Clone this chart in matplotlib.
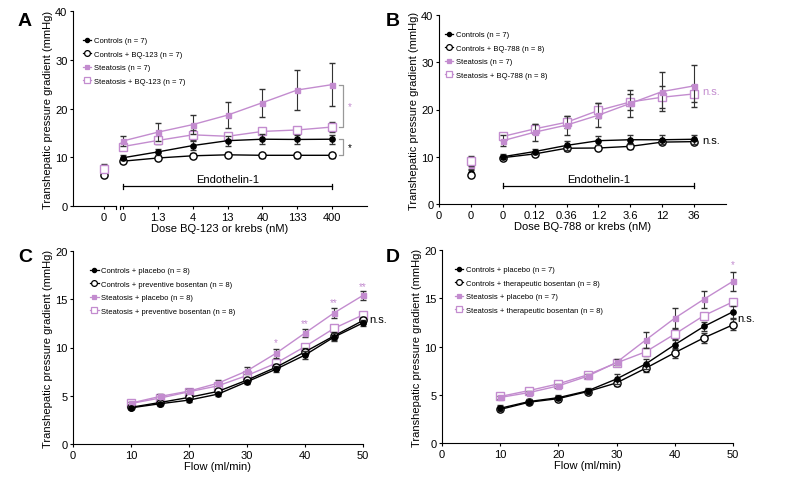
import numpy as np
import matplotlib
matplotlib.use("Agg")
import matplotlib.pyplot as plt
from matplotlib.lines import Line2D

plt.rcParams['font.family'] = ['Liberation Sans', 'DejaVu Sans']

PURPLE = '#c38ccf'
ERRC = '#333333'

# ---------------- Panel A data ----------------
a_labels = ['0', '1.3', '4', '13', '40', '133', '400']
a_ctrl = [9.9, 11.1, 12.4, 13.4, 13.7, 13.65, 13.7]
a_ctrl_err = [0.5, 0.6, 1.0, 1.0, 1.0, 0.9, 0.9]
a_ctrl_bq = [9.2, 9.85, 10.3, 10.5, 10.4, 10.4, 10.4]
a_ctrl_bq_err = [0.4, 0.5, 0.5, 0.5, 0.5, 0.5, 0.5]
a_st = [13.35, 15.15, 16.7, 18.65, 21.2, 23.8, 24.9]
a_st_err = [1.1, 1.8, 2.0, 2.6, 2.9, 4.1, 4.4]
a_st_bq = [12.2, 13.45, 14.6, 14.3, 15.3, 15.6, 16.2]
a_st_bq_err = [0.8, 0.8, 1.0, 0.7, 0.6, 0.6, 1.0]
a_base = [6.6, 6.3, 7.9, 7.6]
a_base_err = [0.5, 0.4, 0.8, 0.6]

# ---------------- Panel B data ----------------
b_labels = ['0', '0.12', '0.36', '1.2', '3.6', '12', '36']
b_ctrl = [10.0, 11.1, 12.4, 13.4, 13.6, 13.6, 13.7]
b_ctrl_err = [0.5, 0.6, 1.0, 1.0, 1.0, 0.9, 0.9]
b_ctrl_bq = [9.8, 10.6, 11.8, 11.85, 12.2, 13.1, 13.2]
b_ctrl_bq_err = [0.4, 0.5, 0.5, 0.5, 0.6, 0.5, 0.5]
b_st = [13.4, 15.2, 16.7, 18.8, 21.3, 23.8, 25.0]
b_st_err = [1.1, 1.8, 2.0, 2.6, 2.9, 4.1, 4.4]
b_st_bq = [14.3, 15.9, 17.3, 19.8, 21.6, 22.6, 23.3]
b_st_bq_err = [0.8, 1.0, 1.3, 1.5, 1.6, 2.3, 1.8]
b_base = [6.6, 6.2, 8.2, 9.1]
b_base_err = [0.5, 0.4, 0.8, 1.1]

# ---------------- Panel C data ----------------
flow = [10, 15, 20, 25, 30, 35, 40, 45, 50]
c_ctrl = [3.75, 4.17, 4.55, 5.17, 6.45, 7.75, 9.22, 11.08, 12.55]
c_ctrl_err = [0.15, 0.2, 0.2, 0.2, 0.2, 0.3, 0.45, 0.4, 0.35]
c_ctrl_bos = [3.8, 4.3, 4.83, 5.45, 6.62, 7.95, 9.55, 11.2, 12.8]
c_ctrl_bos_err = [0.15, 0.2, 0.2, 0.2, 0.25, 0.3, 0.35, 0.4, 0.35]
c_st = [4.24, 4.93, 5.48, 6.3, 7.58, 9.4, 11.5, 13.58, 15.4]
c_st_err = [0.15, 0.3, 0.2, 0.3, 0.35, 0.45, 0.45, 0.5, 0.5]
c_st_bos = [4.2, 4.76, 5.41, 6.03, 7.1, 8.37, 10.1, 11.98, 13.38]
c_st_bos_err = [0.15, 0.2, 0.2, 0.2, 0.25, 0.3, 0.3, 0.3, 0.3]

# ---------------- Panel D data ----------------
d_ctrl = [3.6, 4.3, 4.7, 5.4, 6.64, 8.19, 10.19, 12.08, 13.6]
d_ctrl_err = [0.3, 0.25, 0.25, 0.35, 0.5, 0.5, 0.5, 0.5, 0.6]
d_ctrl_bos = [3.48, 4.23, 4.6, 5.33, 6.23, 7.75, 9.36, 10.9, 12.25]
d_ctrl_bos_err = [0.2, 0.2, 0.25, 0.3, 0.3, 0.4, 0.5, 0.5, 0.55]
d_st = [4.72, 5.23, 5.92, 6.92, 8.36, 10.67, 12.94, 14.9, 16.76]
d_st_err = [0.15, 0.2, 0.2, 0.2, 0.3, 0.8, 1.0, 0.87, 1.0]
d_st_bos = [4.82, 5.44, 6.13, 7.06, 8.3, 9.45, 11.29, 13.2, 14.63]
d_st_bos_err = [0.15, 0.2, 0.2, 0.2, 0.3, 0.4, 0.5, 0.3, 0.3]

W, H = 787, 481
fig = plt.figure(figsize=(W / 100, H / 100), dpi=100)


def rect(l, r, t, b):
    return [l / W, 1 - b / H, (r - l) / W, (b - t) / H]


axA = fig.add_axes(rect(73, 367, 12, 207))
axB = fig.add_axes(rect(439, 726, 16, 205))
axC = fig.add_axes(rect(73, 363, 252, 445))
axD = fig.add_axes(rect(442, 733, 251, 444))

STYLES = [
    dict(color='black', marker='o', mfc='black', mec='black', ms=3.8),
    dict(color='black', marker='o', mfc='white', mec='black', ms=5.2, mew=1.0),
    dict(color=PURPLE, marker='s', mfc=PURPLE, mec=PURPLE, ms=3.6),
    dict(color=PURPLE, marker='s', mfc='white', mec=PURPLE, ms=5.4, mew=1.0),
]

FS = 8


def series(ax, x, y, e, st, z, line=True):
    ax.errorbar(x, y, yerr=e, ls='-' if line else 'none', lw=1.0,
                color=st['color'], marker=st['marker'], mfc=st['mfc'],
                mec=st['mec'], ms=st['ms'], mew=st.get('mew', 1.0),
                ecolor=ERRC, elinewidth=0.8, capsize=2, capthick=0.8,
                zorder=z, clip_on=False)


def style_axis(ax):
    for s in ['top', 'right']:
        ax.spines[s].set_visible(False)
    for s in ['left', 'bottom']:
        ax.spines[s].set_linewidth(0.8)
    ax.tick_params(labelsize=FS, width=0.8, length=2.5, pad=1.5, direction='out')
    ax.set_ylabel('Transhepatic pressure gradient (mmHg)', fontsize=FS, labelpad=1.5)


def legend(ax, labels, anchor):
    handles = []
    for st in STYLES:
        handles.append(Line2D([], [], color=st['color'], marker=st['marker'],
                              mfc=st['mfc'], mec=st['mec'], ms=st['ms'] * 0.8,
                              mew=st.get('mew', 1.0) * 0.9, lw=0.9))
    ax.legend(handles, labels, loc='upper left', bbox_to_anchor=anchor,
              frameon=False, fontsize=5.5, handlelength=1.1, handletextpad=0.35,
              labelspacing=0.8, borderaxespad=0, borderpad=0)


# ---------------- Panel A ----------------
ax = axA
style_axis(ax)
xa = np.arange(len(a_labels))
xbaseA = -0.55
series(ax, xa, a_ctrl_bq, a_ctrl_bq_err, STYLES[1], 5)
series(ax, xa, a_ctrl, a_ctrl_err, STYLES[0], 6)
series(ax, xa, a_st_bq, a_st_bq_err, STYLES[3], 4)
series(ax, xa, a_st, a_st_err, STYLES[2], 5)
for i in [3, 2, 1, 0]:
    series(ax, [xbaseA], [a_base[i]], [a_base_err[i]], STYLES[i], 4 + i, line=False)
ax.set_xlim(-1.44, 7)
ax.set_ylim(0, 40)
ax.set_yticks([0, 10, 20, 30, 40])
ax.set_xticks([xbaseA] + list(xa))
ax.set_xticklabels(['0'] + a_labels)
ax.spines['bottom'].set_visible(False)
ax.plot([-1.44, -0.2], [0, 0], color='black', lw=0.8, clip_on=False)
ax.plot([-0.09, 7], [0, 0], color='black', lw=0.8, clip_on=False)
ax.plot([-0.2, -0.2], [0, -0.55], color='black', lw=0.8, clip_on=False)
ax.plot([-0.09, -0.09], [0, -0.55], color='black', lw=0.8, clip_on=False)
ax.set_xlabel('Dose BQ-123 or krebs (nM)', fontsize=FS, labelpad=1)
# Endothelin-1 bar
ax.plot([0, 6], [4.05, 4.05], color='black', lw=0.9)
ax.plot([0, 0], [3.55, 4.55], color='black', lw=0.9)
ax.plot([6, 6], [3.55, 4.55], color='black', lw=0.9)
ax.text(3, 5.0, 'Endothelin-1', ha='center', va='baseline', fontsize=FS)
# significance brackets
bx = 6.3
ax.plot([bx - 0.1, bx, bx, bx - 0.1], [a_st[-1], a_st[-1], a_st_bq[-1], a_st_bq[-1]],
        color='#999999', lw=0.9, clip_on=False)
ax.text(bx + 0.15, (a_st[-1] + a_st_bq[-1]) / 2, '*', color=PURPLE, fontsize=7,
        ha='left', va='center')
ax.plot([bx - 0.1, bx, bx, bx - 0.1], [a_ctrl[-1], a_ctrl[-1], a_ctrl_bq[-1], a_ctrl_bq[-1]],
        color='#999999', lw=0.9, clip_on=False)
ax.text(bx + 0.15, (a_ctrl[-1] + a_ctrl_bq[-1]) / 2, '*', color='black', fontsize=7,
        ha='left', va='center')
legend(ax, ['Controls (n = 7)', 'Controls + BQ-123 (n = 7)',
            'Steatosis (n = 7)', 'Steatosis + BQ-123 (n = 7)'], (0.034, 0.867))

# ---------------- Panel B ----------------
ax = axB
style_axis(ax)
xb = np.arange(len(b_labels))
xbaseB = -1
series(ax, xb, b_ctrl_bq, b_ctrl_bq_err, STYLES[1], 5)
series(ax, xb, b_ctrl, b_ctrl_err, STYLES[0], 6)
series(ax, xb, b_st_bq, b_st_bq_err, STYLES[3], 4)
series(ax, xb, b_st, b_st_err, STYLES[2], 5)
for i in [3, 2, 1, 0]:
    series(ax, [xbaseB], [b_base[i]], [b_base_err[i]], STYLES[i], 4 + i, line=False)
ax.set_xlim(-2, 7)
ax.set_ylim(0, 40)
ax.set_yticks([0, 10, 20, 30, 40])
ax.set_xticks([-2, xbaseB] + list(xb))
ax.set_xticklabels(['0', '0'] + b_labels)
ax.set_xlabel('Dose BQ-788 or krebs (nM)', fontsize=FS, labelpad=1)
ax.plot([0, 6], [3.9, 3.9], color='black', lw=0.9)
ax.plot([0, 0], [3.4, 4.4], color='black', lw=0.9)
ax.plot([6, 6], [3.4, 4.4], color='black', lw=0.9)
ax.text(3, 4.7, 'Endothelin-1', ha='center', va='baseline', fontsize=FS)
ax.text(6.25, 23.9, 'n.s.', color=PURPLE, fontsize=FS, ha='left', va='center')
ax.text(6.25, 13.5, 'n.s.', color='black', fontsize=FS, ha='left', va='center')
legend(ax, ['Controls (n = 7)', 'Controls + BQ-788 (n = 8)',
            'Steatosis (n = 7)', 'Steatosis + BQ-788 (n = 8)'], (0.021, 0.915))

# ---------------- Panel C ----------------
ax = axC
style_axis(ax)
series(ax, flow, c_ctrl_bos, c_ctrl_bos_err, STYLES[1], 5)
series(ax, flow, c_ctrl, c_ctrl_err, STYLES[0], 6)
series(ax, flow, c_st_bos, c_st_bos_err, STYLES[3], 4)
series(ax, flow, c_st, c_st_err, STYLES[2], 5)
ax.set_xlim(0, 50)
ax.set_ylim(0, 20)
ax.set_xticks([0, 10, 20, 30, 40, 50])
ax.set_yticks([0, 5, 10, 15, 20])
ax.set_xlabel('Flow (ml/min)', fontsize=FS, labelpad=1)
for fx, fy, s in [(35, 10.6, '*'), (40, 12.5, '**'), (45, 14.7, '**'), (50, 16.4, '**')]:
    ax.text(fx, fy, s, color=PURPLE, fontsize=7, ha='center', va='center')
ax.text(51.0, 12.95, 'n.s.', color='black', fontsize=FS, ha='left', va='center')
legend(ax, ['Controls + placebo (n = 8)', 'Controls + preventive bosentan (n = 8)',
            'Steatosis + placebo (n = 8)', 'Steatosis + preventive bosentan (n = 8)'],
       (0.059, 0.917))

# ---------------- Panel D ----------------
ax = axD
style_axis(ax)
series(ax, flow, d_ctrl_bos, d_ctrl_bos_err, STYLES[1], 5)
series(ax, flow, d_ctrl, d_ctrl_err, STYLES[0], 6)
series(ax, flow, d_st_bos, d_st_bos_err, STYLES[3], 4)
series(ax, flow, d_st, d_st_err, STYLES[2], 5)
ax.set_xlim(0, 50)
ax.set_ylim(0, 20)
ax.set_xticks([0, 10, 20, 30, 40, 50])
ax.set_yticks([0, 5, 10, 15, 20])
ax.set_xlabel('Flow (ml/min)', fontsize=FS, labelpad=1)
ax.text(50, 18.5, '*', color=PURPLE, fontsize=7, ha='center', va='center')
ax.text(50.7, 12.95, 'n.s.', color='black', fontsize=FS, ha='left', va='center')
legend(ax, ['Controls + placebo (n = 7)', 'Controls + therapeutic bosentan (n = 8)',
            'Steatosis + placebo (n = 7)', 'Steatosis + therapeutic bosentan (n = 8)'],
       (0.045, 0.917))

# panel letters
for lab, (px, py) in zip('ABCD', [(18, 22), (386, 22), (18, 258), (386, 258)]):
    fig.text(px / W, 1 - py / H, lab, fontsize=14, fontweight='bold', ha='left', va='center')

fig.savefig('out.png', dpi=100)
